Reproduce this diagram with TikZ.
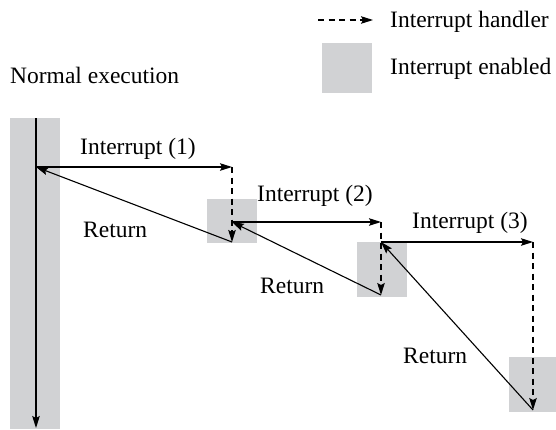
\documentclass[tikz,border=0pt]{standalone}
\usepackage{fontspec}
\setmainfont{Liberation Serif}
\newfontfamily\timesfont{Liberation Serif}
\usetikzlibrary{arrows.meta}
\definecolor{enab}{HTML}{D1D2D4}
\begin{document}
\begin{tikzpicture}[x=1pt,y=-1pt,
  enabled/.style={fill=enab,draw=none},
  flow/.style={line width=1.1pt,-{Stealth[length=12pt,width=7.5pt,inset=2pt]}},
  handler/.style={line width=1.1pt,dash pattern=on 6pt off 4.5pt,-{Stealth[length=12pt,width=7.5pt,inset=2pt]}},
  lbl/.style={inner sep=0pt,anchor=base west,font=\timesfont\fontsize{23.5}{28}\selectfont}]
\useasboundingbox (0,0) rectangle (556,429);
% interrupt-enabled regions
\fill[enabled] (10,118) rectangle (60,429);
\fill[enabled] (207,199) rectangle (257,243);
\fill[enabled] (357,242) rectangle (407,297);
\fill[enabled] (509,357) rectangle (556,412);
\fill[enabled] (322,43) rectangle (372,93);
% coordinates
\coordinate (mtop) at (36,118);
\coordinate (mbot) at (36,428);
\coordinate (m1) at (36,167);
\coordinate (a1) at (232,167);
\coordinate (b1) at (232,242);
\coordinate (a1s) at (232,222);
\coordinate (a2) at (381,222);
\coordinate (b2) at (381,295);
\coordinate (a2s) at (381,242);
\coordinate (a3) at (533,242);
\coordinate (b3) at (533,410);
\coordinate (l1) at (318,20);
\coordinate (l2) at (373,20);
% normal execution
\draw[flow] (mtop) -- (mbot);
% interrupts
\draw[flow] (m1) -- (a1);
\draw[handler] (a1) -- (b1);
\draw[flow] (b1) -- (m1);
\draw[flow] (a1s) -- (a2);
\draw[handler] (a2) -- (b2);
\draw[flow] (b2) -- (a1s);
\draw[flow] (a2s) -- (a3);
\draw[handler] (a3) -- (b3);
\draw[flow] (b3) -- (a2s);
% legend
\draw[handler] (l1) -- (l2);
% labels
\node[lbl] (tne) at (10,83) {Normal execution};
\node[lbl] (tih) at (390,27) {Interrupt handler};
\node[lbl] (tie) at (390,74) {Interrupt enabled};
\node[lbl] (ti1) at (80,154) {Interrupt (1)};
\node[lbl] (ti2) at (257,201) {Interrupt (2)};
\node[lbl] (ti3) at (412,228) {Interrupt (3)};
\node[lbl] (tr1) at (83,237) {Return};
\node[lbl] (tr2) at (260,293) {Return};
\node[lbl] (tr3) at (403,363) {Return};
\end{tikzpicture}
\end{document}
